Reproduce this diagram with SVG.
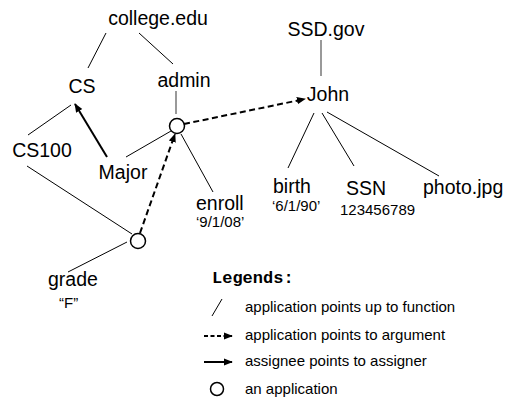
<svg xmlns="http://www.w3.org/2000/svg" width="505" height="397" viewBox="0 0 505 397">
<style>
.lbl{font-family:"Liberation Sans",Arial,sans-serif;font-size:19.5px;fill:#000}
.sm{font-family:"Liberation Sans",Arial,sans-serif;font-size:15px;fill:#000}
.lg{font-family:"Liberation Sans",Arial,sans-serif;font-size:15px;fill:#000}
.hd{font-family:"Liberation Mono","Courier New",monospace;font-size:17px;font-weight:bold;fill:#000}
.e{stroke:#000;stroke-width:1;fill:none}
.g{stroke:#555;stroke-width:1.2;fill:none}
.d{stroke:#000;stroke-width:2;fill:none;stroke-dasharray:6 3.5}
.s{stroke:#000;stroke-width:2;fill:none}
.app{fill:#fff;stroke:#000;stroke-width:1.5}
</style>
<defs>
<marker id="ah" viewBox="0 0 10 10" refX="9" refY="5" markerWidth="4.5" markerHeight="4.5" orient="auto" markerUnits="strokeWidth">
<path d="M0,1 L10,5 L0,9 Z" fill="#000"/>
</marker>
</defs>
<g id="connectors">
<line class="e" x1="106" y1="33" x2="88" y2="68"/>
<line class="e" x1="139" y1="33" x2="173" y2="64"/>
<line class="g" x1="176" y1="91" x2="176" y2="114"/>
<line class="e" x1="71" y1="105" x2="28" y2="135"/>
<line class="s" x1="107" y1="157" x2="75" y2="104" marker-end="url(#ah)"/>
<line class="e" x1="126" y1="157" x2="171" y2="131"/>
<line class="e" x1="181" y1="134" x2="213" y2="192"/>
<line class="e" x1="27" y1="166" x2="132" y2="234"/>
<line class="e" x1="127" y1="242" x2="68" y2="272"/>
<line class="d" x1="140" y1="233" x2="175" y2="134" marker-end="url(#ah)"/>
<line class="d" x1="184" y1="124" x2="305" y2="99" marker-end="url(#ah)"/>
<line class="g" x1="321" y1="40" x2="321" y2="76"/>
<line class="e" x1="314" y1="113" x2="288" y2="168"/>
<line class="e" x1="322" y1="113" x2="354" y2="166"/>
<line class="e" x1="327" y1="112" x2="439" y2="176"/>
</g>
<g id="college"><text class="lbl" x="158" y="25" text-anchor="middle">college.edu</text></g>
<g id="cs"><text class="lbl" x="82" y="93" text-anchor="middle">CS</text></g>
<g id="admin"><text class="lbl" x="184" y="87" text-anchor="middle">admin</text></g>
<g id="cs100"><text class="lbl" x="42" y="157" text-anchor="middle">CS100</text></g>
<g id="major"><text class="lbl" x="123" y="179" text-anchor="middle">Major</text></g>
<g id="app1"><circle class="app" cx="177" cy="126" r="7.5"/></g>
<g id="enroll"><text class="lbl" x="196" y="210">enroll</text><text class="sm" x="196" y="227">‘9/1/08’</text></g>
<g id="app2"><circle class="app" cx="138" cy="241" r="7.5"/></g>
<g id="grade"><text class="lbl" x="48" y="286">grade</text><text class="sm" x="59" y="308">“F”</text></g>
<g id="ssd"><text class="lbl" x="326" y="36" text-anchor="middle">SSD.gov</text></g>
<g id="john"><text class="lbl" x="328" y="101" text-anchor="middle">John</text></g>
<g id="birth"><text class="lbl" x="273" y="193">birth</text><text class="sm" x="272" y="211">‘6/1/90’</text></g>
<g id="ssn"><text class="lbl" x="346" y="195">SSN</text><text class="sm" x="340" y="215">123456789</text></g>
<g id="photo"><text class="lbl" x="423" y="194">photo.jpg</text></g>
<g id="legend">
<text class="hd" x="212" y="283">Legends:</text>
<line class="e" x1="212" y1="316" x2="222" y2="299"/>
<text class="lg" x="245" y="312">application points up to function</text>
<line class="s" x1="204" y1="336" x2="232" y2="336" stroke-width="1.5" stroke-dasharray="4 2.5" marker-end="url(#ah)"/>
<text class="lg" x="245" y="340">application points to argument</text>
<line class="s" x1="204" y1="362" x2="232" y2="362" marker-end="url(#ah)"/>
<text class="lg" x="245" y="366">assignee points to assigner</text>
<circle class="app" cx="217" cy="389" r="6.5"/>
<text class="lg" x="245" y="394">an application</text>
</g>
</svg>
